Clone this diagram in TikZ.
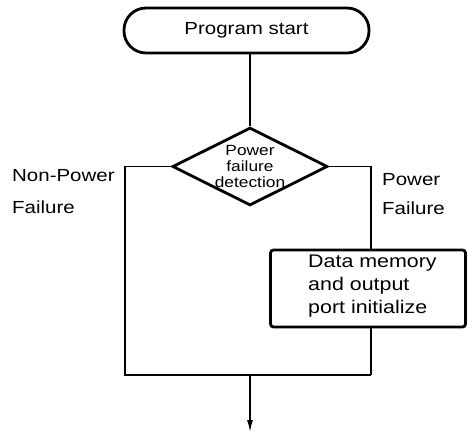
\documentclass[tikz,border=0pt]{standalone}
\usepackage{fontspec}
\setmainfont[FakeStretch=1.17]{Liberation Sans}
\usetikzlibrary{shapes.geometric,arrows.meta}
\tikzset{
  thickline/.style={line width=2.8pt},
  conn/.style={line width=1.4pt},
  bigtxt/.style={font=\fontsize{17.5}{23}\selectfont},
  midtxt/.style={font=\fontsize{18.3}{23}\selectfont},
  smalltxt/.style={font=\fontsize{14.8}{16}\selectfont},
}
\begin{document}
\begin{tikzpicture}[x=1pt,y=1pt]
\useasboundingbox (0,0) rectangle (468,-434);
% terminator
\node[draw, thickline, rounded corners=22pt, minimum width=245pt, minimum height=45pt, inner sep=0pt, bigtxt] (start) at (246.5,-30.5) {Program start};
% decision
\node[draw, thickline, diamond, minimum width=155pt, minimum height=78pt, inner sep=0pt,
      label={[align=center, smalltxt, inner sep=0pt]center:Power\\failure\\detection}] (dia) at (250,-166.5) {};
% process box
\node[draw, thickline, rounded corners=3pt, minimum width=195pt, minimum height=77pt, inner sep=0pt] (box) at (368,-288.5) {};
\node[anchor=west, align=left, midtxt, inner sep=0pt] (boxtxt) at (308,-286.5) {Data memory\\and output\\port initialize};
% labels
\node[anchor=base west, bigtxt, inner sep=0pt] (lnp1) at (12,-181) {Non-Power};
\node[anchor=base west, bigtxt, inner sep=0pt] (lnp2) at (12,-213) {Failure};
\node[anchor=base west, bigtxt, inner sep=0pt] (lp1) at (382,-185) {Power};
\node[anchor=base west, bigtxt, inner sep=0pt] (lp2) at (382,-214) {Failure};
% coordinates
\coordinate (lc) at (125,-166.5);
\coordinate (rc) at (371,-166.5);
\coordinate (jl) at (125,-375);
\coordinate (jr) at (371,-375);
\coordinate (jm) at (250,-375);
\coordinate (end) at (250,-432);
% connectors
\draw[conn] (dia.north |- start.south) -- (dia.north);
\draw[conn] (dia.west) -- (lc) -- (jl) -- (jr);
\draw[conn] (dia.east) -- (rc) -- (rc |- box.north);
\draw[conn] (rc |- box.south) -- (jr);
\draw[conn, -{Latex[length=12pt,width=6pt]}] (jm) -- (end);
\end{tikzpicture}
\end{document}
